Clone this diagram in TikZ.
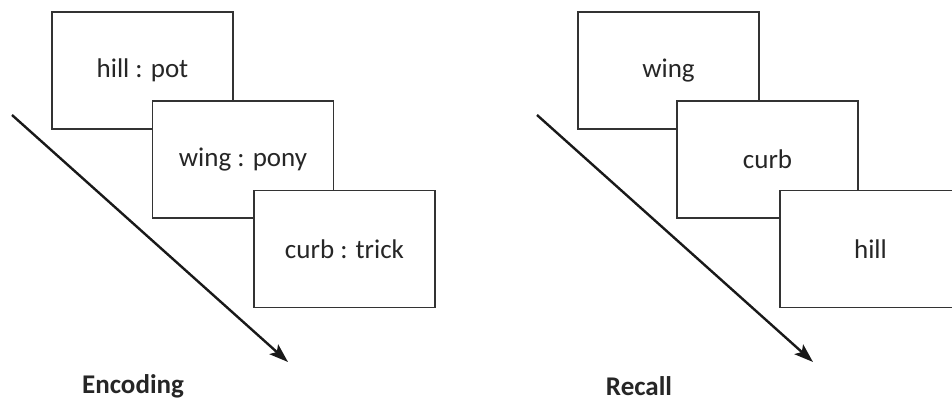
\documentclass[tikz,border=0pt]{standalone}
\usepackage{fontspec}
\setmainfont{Carlito}
\usetikzlibrary{arrows.meta}
\begin{document}
\begin{tikzpicture}[x=1pt,y=-1pt,
  card/.style={draw=black!80,line width=1.5pt,fill=white,minimum width=181pt,minimum height=117pt,inner sep=0pt,font=\fontsize{27}{31}\selectfont,text=black!85},
  timearrow/.style={line width=2.4pt,draw=black!90,-{Stealth[length=19pt,width=13pt,inset=4pt]}},
  phase/.style={font=\bfseries\fontsize{27}{31}\selectfont,text=black!85}]
\clip (0,0) rectangle (952,403);
\fill[white] (0,0) rectangle (952,403);
% Encoding
\node[card] (e1) at (142.5,70.5) {hill : pot};
\node[card] (e2) at (243,159.5) {wing : pony};
\node[card] (e3) at (344.5,249) {curb : trick};
\coordinate (ea) at (12,115);
\coordinate (eb) at (288,362);
\draw[timearrow] (ea) -- (eb);
\node[phase] (enc) at (133,386) {Encoding};
% Recall
\node[card] (r1) at (668.5,70.5) {wing};
\node[card] (r2) at (767.5,159.5) {curb};
\node[card] (r3) at (870.5,249) {hill};
\coordinate (ra) at (537,115);
\coordinate (rb) at (813,362);
\draw[timearrow] (ra) -- (rb);
\node[phase] (rec) at (639,386) {Recall};
\end{tikzpicture}
\end{document}
